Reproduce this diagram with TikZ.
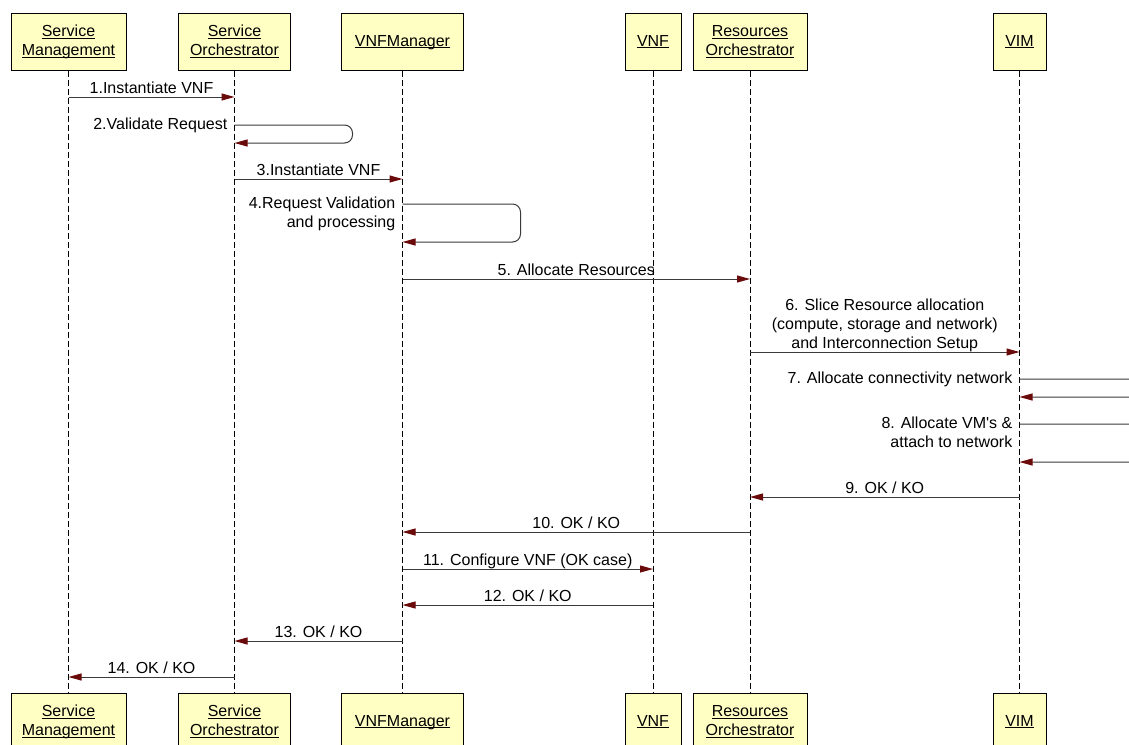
\documentclass[tikz,border=0pt]{standalone}
\usepackage{fontspec}
\setmainfont{Liberation Sans}
\usetikzlibrary{arrows.meta}
\definecolor{objfill}{HTML}{FFFFC4}
\definecolor{tipred}{HTML}{6B0A0A}
\definecolor{msgline}{HTML}{3A3A3A}
\newcommand\objname[1]{\underline{\raisebox{0pt}[\height][0pt]{#1}}}
\tikzset{
  obj/.style={draw=black, fill=objfill, line width=1pt, minimum height=57pt,
    inner sep=0pt, align=center},
  lifeline/.style={draw=black, dash pattern=on 6pt off 3pt, line width=1pt},
  msg/.style={draw=msgline, line width=1pt,
    -{Triangle[length=13pt,width=7pt,color=tipred]}},
  selfmsg/.style={msg, rounded corners=8pt},
  lbl/.style={anchor=south, inner sep=0pt, text depth=3.5pt, align=center},
  selflbl/.style={anchor=north east, inner sep=0pt, align=right,
    xshift=-7pt, yshift=7pt}
}

\begin{document}
\begin{tikzpicture}[x=1pt,y=-1pt,font=\fontsize{16}{19}\selectfont]
  % Frame
  \useasboundingbox (0,0) rectangle (1129,744);
  \clip (0,0) rectangle (1129,744);
  \fill[white] (0,0) rectangle (1129,744);
  %
  % Objects (top)
  \node[obj, minimum width=115pt] (sm) at (68.5,41.5) {\objname{Service}\\\objname{Management}};
  \node[obj, minimum width=112pt] (so) at (234.5,41.5) {\objname{Service}\\\objname{Orchestrator}};
  \node[obj, minimum width=122pt] (vnfm) at (402.5,41.5) {\objname{VNFManager}};
  \node[obj, minimum width=56pt] (vnf) at (653,41.5) {\objname{VNF}};
  \node[obj, minimum width=114pt] (ro) at (750,41.5) {\objname{Resources}\\\objname{Orchestrator}};
  \node[obj, minimum width=53pt] (vim) at (1019.5,41.5) {\objname{VIM}};
  %
  % Objects (bottom)
  \node[obj, minimum width=115pt] (smb) at (68.5,721.5) {\objname{Service}\\\objname{Management}};
  \node[obj, minimum width=112pt] (sob) at (234.5,721.5) {\objname{Service}\\\objname{Orchestrator}};
  \node[obj, minimum width=122pt] (vnfmb) at (402.5,721.5) {\objname{VNFManager}};
  \node[obj, minimum width=56pt] (vnfb) at (653,721.5) {\objname{VNF}};
  \node[obj, minimum width=114pt] (rob) at (750,721.5) {\objname{Resources}\\\objname{Orchestrator}};
  \node[obj, minimum width=53pt] (vimb) at (1019.5,721.5) {\objname{VIM}};
  %
  % Lifelines
  \draw[lifeline] (sm) -- (smb);
  \draw[lifeline] (so) -- (sob);
  \draw[lifeline] (vnfm) -- (vnfmb);
  \draw[lifeline] (vnf) -- (vnfb);
  \draw[lifeline] (ro) -- (rob);
  \draw[lifeline] (vim) -- (vimb);
  %
  % Messages
  \draw[msg] (sm |- 0,97) -- node[lbl] (m1) {1.Instantiate VNF} (so |- 0,97);
  \draw[selfmsg] (so |- 0,125) -- ++(118,0) -- ++(0,18) -- (so |- 0,143);
  \node[selflbl] (m2) at (so |- 0,125) {2.Validate Request};
  \draw[msg] (so |- 0,179) -- node[lbl] (m3) {3.Instantiate VNF} (vnfm |- 0,179);
  \draw[selfmsg] (vnfm |- 0,204) -- ++(118,0) -- ++(0,38) -- (vnfm |- 0,242);
  \node[selflbl] (m4) at (vnfm |- 0,204) {4.Request Validation\\and processing};
  \draw[msg] (vnfm |- 0,279) -- node[lbl] (m5) {5. Allocate Resources} (ro |- 0,279);
  \draw[msg] (ro |- 0,352) -- node[lbl] (m6) {6. Slice Resource allocation\\(compute, storage and network)\\and Interconnection Setup} (vim |- 0,352);
  \draw[selfmsg] (vim |- 0,379) -- ++(118,0) -- ++(0,18) -- (vim |- 0,397);
  \node[selflbl] (m7) at (vim |- 0,379) {7. Allocate connectivity network};
  \draw[selfmsg] (vim |- 0,424) -- ++(118,0) -- ++(0,38) -- (vim |- 0,462);
  \node[selflbl] (m8) at (vim |- 0,424) {8. Allocate VM\textquotesingle s \&\\attach to network};
  \draw[msg] (vim |- 0,497) -- node[lbl] (m9) {9. OK / KO} (ro |- 0,497);
  \draw[msg] (ro |- 0,532) -- node[lbl] (m10) {10. OK / KO} (vnfm |- 0,532);
  \draw[msg] (vnfm |- 0,569) -- node[lbl] (m11) {11. Configure VNF (OK case)} (vnf |- 0,569);
  \draw[msg] (vnf |- 0,605) -- node[lbl] (m12) {12. OK / KO} (vnfm |- 0,605);
  \draw[msg] (vnfm |- 0,641) -- node[lbl] (m13) {13. OK / KO} (so |- 0,641);
  \draw[msg] (so |- 0,677) -- node[lbl] (m14) {14. OK / KO} (sm |- 0,677);
  %
\end{tikzpicture}
\end{document}
